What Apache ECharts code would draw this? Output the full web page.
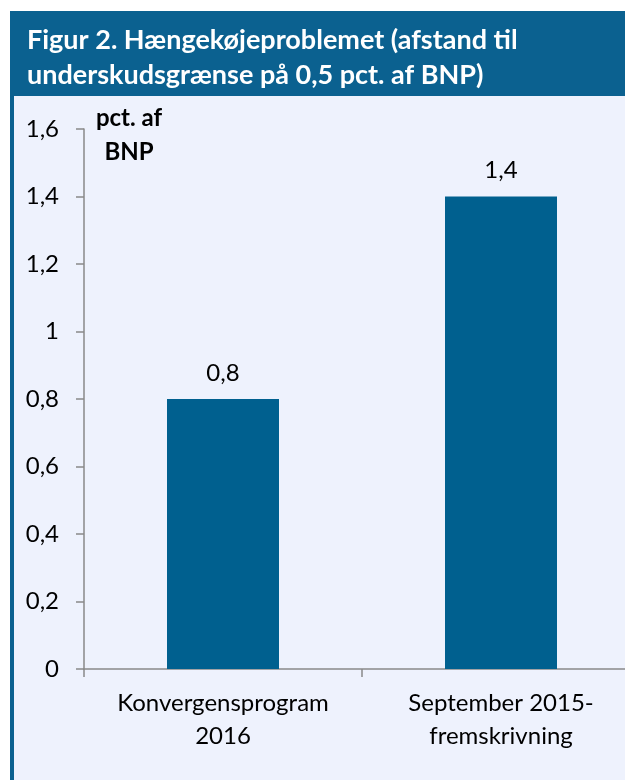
<!DOCTYPE html>
<html>
<head>
<meta charset="utf-8">
<script src="https://cdn.jsdelivr.net/npm/echarts@6/dist/echarts.min.js"></script>
<style>
  html, body { margin: 0; padding: 0; background: #fff; }
  #chart { width: 625px; height: 780px; }
</style>
</head>
<body>
<div id="chart"></div>
<script>
// data
const categories = ['Konvergensprogram\n2016', 'September 2015-\nfremskrivning']
const values = [0.8, 1.4]
const yTicks = [0, 0.2, 0.4, 0.6, 0.8, 1, 1.2, 1.4, 1.6]

const FONT = 'Lato'
const BLUE = '#00608f'
const fmt = v => String(v).replace('.', ',')

const chart = echarts.init(document.getElementById('chart'))
chart.setOption({
  backgroundColor: '#ffffff',
  animation: false,
  title: {
    text: 'Figur 2. Hængekøjeproblemet (afstand til\nunderskudsgrænse på 0,5 pct. af BNP)',
    left: 22,
    top: 18,
    textStyle: {
      color: '#ffffff',
      fontFamily: FONT,
      fontWeight: 'bold',
      fontSize: 27,
      lineHeight: 35
    }
  },
  graphic: [
    // panel background, title band and left border
    { type: 'rect', z: -10, shape: { x: 10, y: 11, width: 615, height: 769 }, style: { fill: '#eef2fd' } },
    { type: 'rect', z: -9, shape: { x: 10, y: 11, width: 615, height: 85 }, style: { fill: '#0b6190' } },
    { type: 'rect', z: -9, shape: { x: 10, y: 11, width: 4, height: 769 }, style: { fill: '#0b6190' } },
    {
      type: 'text',
      x: 129,
      y: 101,
      style: {
        text: 'pct. af\nBNP',
        fill: '#000',
        font: 'bold 24px ' + FONT,
        lineHeight: 34,
        align: 'center'
      }
    }
  ],
  grid: {
    left: 84,
    width: 556, // axis runs past the right edge as in the original
    top: 129,
    bottom: 111,
    outerBoundsMode: 'none'
  },
  xAxis: {
    type: 'category',
    data: categories,
    axisLine: { lineStyle: { color: '#898989', width: 1.5 } },
    axisTick: { show: true, length: 8, lineStyle: { color: '#898989', width: 1.5 } },
    axisLabel: {
      color: '#000',
      fontFamily: FONT,
      fontSize: 24,
      lineHeight: 33,
      margin: 18,
      interval: 0
    }
  },
  yAxis: {
    type: 'value',
    min: 0,
    max: 1.6,
    interval: 0.2,
    axisLine: { show: true, lineStyle: { color: '#898989', width: 1.5 } },
    axisTick: { show: true, length: 8, lineStyle: { color: '#898989', width: 1.5 } },
    splitLine: { show: false },
    axisLabel: {
      color: '#000',
      fontFamily: FONT,
      fontSize: 24,
      margin: 25,
      formatter: v => {
        const t = yTicks.find(x => Math.abs(x - v) < 1e-6)
        return fmt(t !== undefined ? t : +v.toFixed(1))
      }
    }
  },
  series: [{
    type: 'bar',
    data: values,
    barWidth: 112,
    itemStyle: { color: BLUE },
    label: {
      show: true,
      position: 'top',
      distance: 14,
      color: '#000',
      fontFamily: FONT,
      fontSize: 24,
      formatter: p => fmt(p.value)
    }
  }]
})
</script>
</body>
</html>
